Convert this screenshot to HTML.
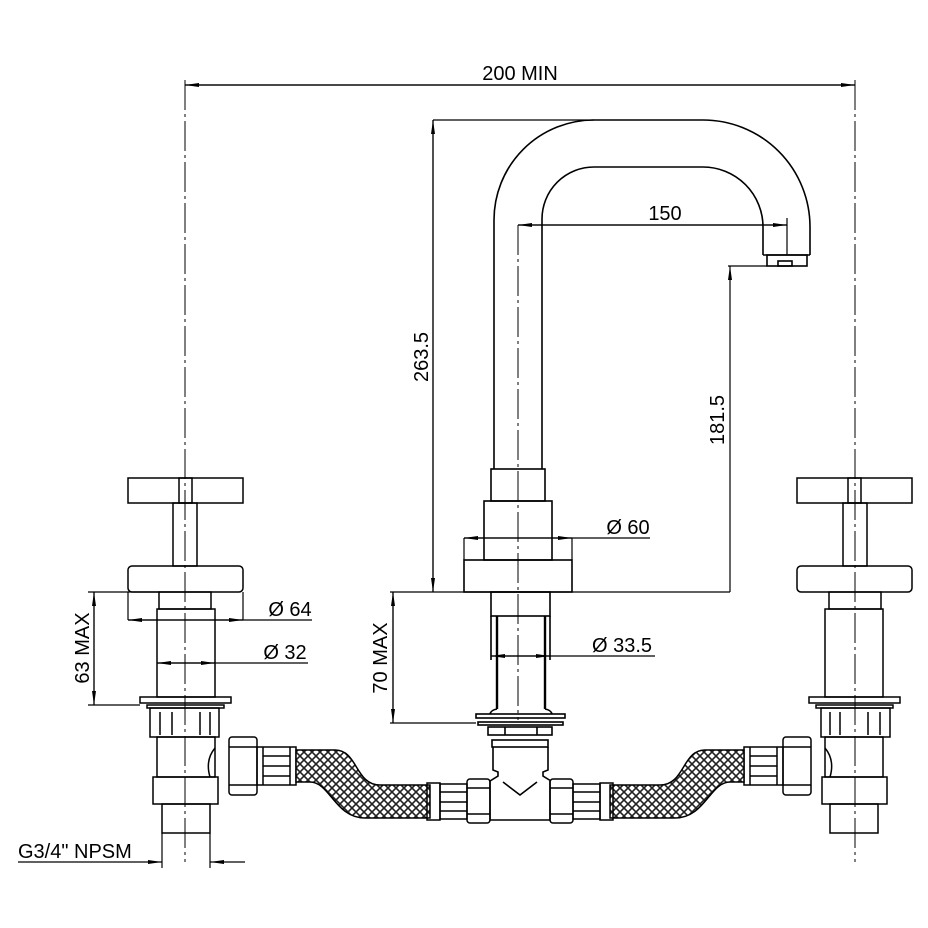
<!DOCTYPE html>
<html><head><meta charset="utf-8"><style>
html,body{margin:0;padding:0;background:#fff}
svg{display:block}
text{font-family:"Liberation Sans",sans-serif;font-size:20px;fill:#000}
</style></head><body>
<svg width="928" height="928" viewBox="0 0 928 928" xmlns="http://www.w3.org/2000/svg">
<defs>
<pattern id="mesh" width="8" height="8" patternUnits="userSpaceOnUse">
<rect width="8" height="8" fill="#fff"/>
<path d="M0,0 L8,8 M8,0 L0,8" stroke="#222" stroke-width="1.6"/>
</pattern>
<marker id="ar" markerWidth="14" markerHeight="6" refX="14" refY="3" orient="auto" markerUnits="userSpaceOnUse">
<path d="M0,1 L14,3 L0,5 Z" fill="#000"/>
</marker>
<g id="valve" fill="none" stroke="#000" stroke-width="1.5">
<rect x="128" y="478" width="115" height="25"/>
<rect x="179" y="478" width="13" height="25"/>
<rect x="173" y="503" width="24" height="63"/>
<rect x="128" y="566" width="115" height="26" rx="4"/>
<rect x="159" y="592" width="52" height="17"/>
<rect x="157" y="609" width="58" height="88"/>
<rect x="140" y="697" width="91" height="6"/>
<rect x="147" y="705" width="77" height="3"/>
<rect x="150" y="708" width="69" height="29"/>
<path d="M160,712 V735 M172,712 V735 M200,712 V735 M210,712 V735"/>
<rect x="157" y="737" width="58" height="40"/>
<path d="M215,748 Q205,760 210,777"/>
<rect x="153" y="777" width="65" height="27"/>
<rect x="162" y="804" width="48" height="29"/>
<rect x="229" y="737" width="28" height="58" rx="3"/>
<path d="M229,747 H257 M229,785 H257"/>
<rect x="257" y="747" width="39" height="38"/>
<path d="M263,747 V785 M290,747 V785 M263,756 H290 M263,766 H290 M263,776 H290"/>
</g>
<g id="hose">
<path d="M296,750 L335,750 C358,750 355,785 380,785 L430,785 L430,818 L365,818 C335,818 330,782 310,782 L296,782 Z" fill="url(#mesh)" stroke="#000" stroke-width="1.5"/>
<g fill="none" stroke="#000" stroke-width="1.5">
<rect x="427" y="783" width="13" height="37"/>
<rect x="440" y="784" width="27" height="35"/>
<path d="M440,792 H467 M440,802 H467 M440,811 H467"/>
<rect x="467" y="779" width="23" height="44" rx="3"/>
<path d="M467,788 H490 M467,814 H490"/>
</g>
</g>
</defs>

<g stroke="#000" stroke-width="1" stroke-dasharray="30,4,3,4" fill="none">
<path d="M185,80 V862"/>
<path d="M855,80 V862"/>
<path d="M518,225 V720"/>
</g>

<use href="#valve"/>
<use href="#valve" transform="translate(1040,0) scale(-1,1)"/>
<use href="#hose"/>
<use href="#hose" transform="translate(1040,0) scale(-1,1)"/>

<g fill="none" stroke="#000" stroke-width="1.6">
<path d="M494,469 V220 A100,100 0 0 1 594,120 H703 A107,107 0 0 1 810,227 V255"/>
<path d="M542,469 V219 A52,52 0 0 1 594,167 H703 A60,60 0 0 1 763,227 V255"/>
<path d="M763,255 H810"/>
<rect x="767" y="255" width="40" height="11"/>
<rect x="778" y="261" width="14" height="5"/>
<rect x="491" y="469" width="54" height="32"/>
<rect x="484" y="501" width="68" height="59"/>
<rect x="464" y="560" width="108" height="32"/>
<rect x="491" y="592" width="59" height="24"/>
<path d="M497,616 V709 M545,616 V709" stroke-width="2.4"/>
<path d="M491,616 V660 M550,616 V660"/>
<path d="M497,709 Q491,710 490,714 M545,709 Q551,710 552,714"/>
<rect x="476" y="714" width="89" height="4"/>
<rect x="478" y="722" width="85" height="3"/>
<rect x="488" y="727" width="64" height="8"/>
<path d="M505,727 V735 M537,727 V735"/>
<rect x="492" y="740" width="56" height="7"/>
<path d="M493,747 V770 L498,772 V776 L490,781 M548,747 V770 L543,772 V776 L551,781"/>
<path d="M490,781 V820 H550 V781"/>
<path d="M503,782 L520,795 L537,782"/>
</g>

<g stroke="#000" stroke-width="1.2" fill="none">
<path d="M185,85 H855" marker-end="url(#ar)"/>
<path d="M855,85 H185" marker-end="url(#ar)"/>
<path d="M433,120 H594"/>
<path d="M433,592 H730 M390,592 H464"/>
<path d="M433,120 V592" marker-end="url(#ar)"/>
<path d="M433,592 V120" marker-end="url(#ar)"/>
<path d="M518,225 H787" marker-end="url(#ar)"/>
<path d="M787,225 H518" marker-end="url(#ar)"/>
<path d="M787,218 V255"/>
<path d="M728,266 H767"/>
<path d="M730,592 V266" marker-end="url(#ar)"/>
<path d="M464,538 V560 M572,538 V560"/>
<path d="M650,538 H464" marker-end="url(#ar)"/>
<path d="M464,538 H572" marker-end="url(#ar)"/>
<path d="M88,592 H160 M88,705 H140"/>
<path d="M94,705 V592" marker-end="url(#ar)"/>
<path d="M94,592 V705" marker-end="url(#ar)"/>
<path d="M128,592 V620 M243,592 V620"/>
<path d="M312,620 H128" marker-end="url(#ar)"/>
<path d="M128,620 H243" marker-end="url(#ar)"/>
<path d="M308,663 H157" marker-end="url(#ar)"/>
<path d="M157,663 H215" marker-end="url(#ar)"/>
<path d="M390,723 H476"/>
<path d="M393,723 V592" marker-end="url(#ar)"/>
<path d="M393,592 V723" marker-end="url(#ar)"/>
<path d="M655,656 H491" marker-end="url(#ar)"/>
<path d="M491,656 H550" marker-end="url(#ar)"/>
<path d="M162,833 V868 M210,833 V868"/>
<path d="M18,862 H162" marker-end="url(#ar)"/>
<path d="M245,862 H210" marker-end="url(#ar)"/>
</g>

<text x="520" y="80" text-anchor="middle">200 MIN</text>
<text x="665" y="220" text-anchor="middle">150</text>
<text x="628" y="534" text-anchor="middle">Ø 60</text>
<text x="290" y="616" text-anchor="middle">Ø 64</text>
<text x="285" y="659" text-anchor="middle">Ø 32</text>
<text x="622" y="652" text-anchor="middle">Ø 33.5</text>
<text x="18" y="858">G3/4" NPSM</text>
<text transform="translate(428,357) rotate(-90)" text-anchor="middle">263.5</text>
<text transform="translate(724,420) rotate(-90)" text-anchor="middle">181.5</text>
<text transform="translate(89,648) rotate(-90)" text-anchor="middle">63 MAX</text>
<text transform="translate(387,658) rotate(-90)" text-anchor="middle">70 MAX</text>
</svg>
</body></html>
